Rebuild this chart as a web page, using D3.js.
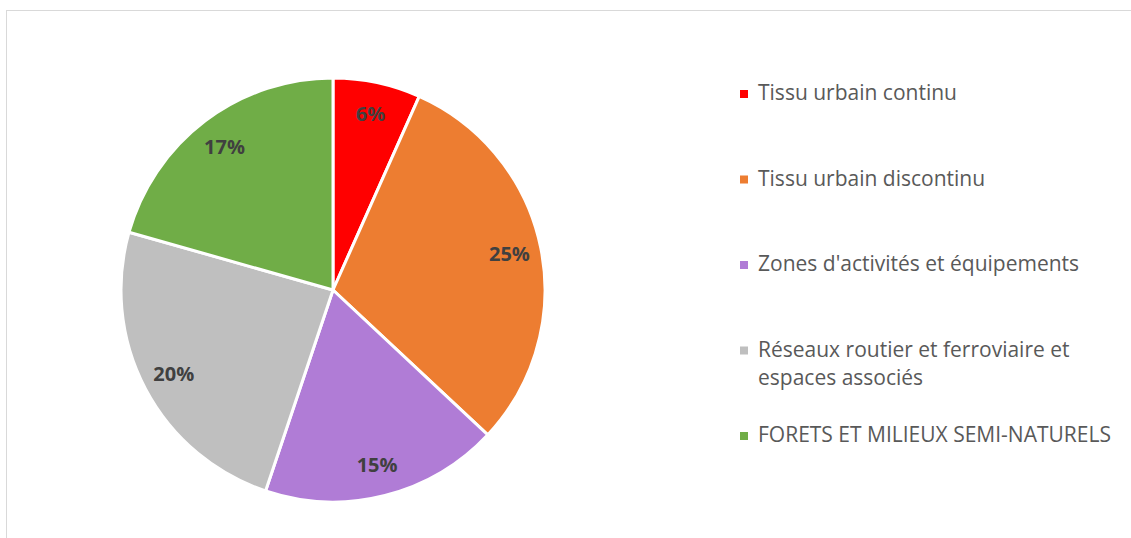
<!DOCTYPE html>
<html lang="fr">
<head>
    <meta charset="UTF-8">
    <title>Occupation du sol</title>
    <script src="https://d3js.org/d3.v7.min.js"></script>
    <style>
        body {
            margin: 0;
            background: #fff;
            font-family: "Open Sans", sans-serif;
        }
        svg { display: block; }
        .label {
            font-weight: bold;
            font-size: 20px;
            fill: #404040;
        }
        .legend text {
            font-size: 21px;
            fill: #595959;
        }
    </style>
</head>
<body>
<script>
    // Data (slice sizes from the angles, labels as printed)
    const categories = [
        "Tissu urbain continu",
        "Tissu urbain discontinu",
        "Zones d'activités et équipements",
        "Réseaux routier et ferroviaire et espaces associés",
        "FORETS ET MILIEUX SEMI-NATURELS"
    ];
    const values = [5.5, 25, 15, 20, 17];
    const labels = ["6%", "25%", "15%", "20%", "17%"];
    const colors = ["#ff0000", "#ed7d31", "#b07cd6", "#bfbfbf", "#70ad47"];

    const w = 1131;
    const h = 538;
    const cx = 333, cy = 290, radius = 212;

    const data = categories.map((c, i) => ({ name: c, value: values[i], label: labels[i], color: colors[i] }));

    const svg = d3.select("body")
        .append("svg")
        .attr("width", w)
        .attr("height", h);

    // chart area border (runs off the right and bottom edges)
    svg.append("rect")
        .attr("x", 6.5)
        .attr("y", 10.5)
        .attr("width", w + 20)
        .attr("height", h + 20)
        .attr("fill", "none")
        .attr("stroke", "#d9d9d9")
        .attr("stroke-width", 1);

    const pie = d3.pie().sort(null).value(d => d.value);
    const arc = d3.arc().innerRadius(0).outerRadius(radius);
    const labelArc = d3.arc().innerRadius(180).outerRadius(180);

    const g = svg.append("g").attr("transform", `translate(${cx},${cy})`);
    const arcs = pie(data);

    g.selectAll("path")
        .data(arcs)
        .enter()
        .append("path")
        .attr("d", arc)
        .attr("fill", d => d.data.color)
        .attr("stroke", "#fff")
        .attr("stroke-width", 3)
        .attr("stroke-linejoin", "round");

    g.selectAll("text.label")
        .data(arcs)
        .enter()
        .append("text")
        .attr("class", "label")
        .attr("transform", d => `translate(${labelArc.centroid(d)})`)
        .attr("text-anchor", "middle")
        .attr("dy", "0.36em")
        .text(d => d.data.label);

    // Legend
    const ly = d3.scalePoint().domain(categories).range([100, 442]);
    const legend = svg.append("g").attr("class", "legend");
    const items = legend.selectAll("g")
        .data(data)
        .enter()
        .append("g")
        .attr("transform", d => `translate(740,${ly(d.name)})`);

    items.append("rect")
        .attr("x", 0)
        .attr("y", -10)
        .attr("width", 8)
        .attr("height", 8)
        .attr("fill", d => d.color);

    const maxWidth = 370;
    items.append("text")
        .attr("x", 18)
        .attr("y", 0)
        .each(function (d) {
            const text = d3.select(this);
            const words = d.name.split(" ");
            let line = [];
            let lineNo = 0;
            let tspan = text.append("tspan").attr("x", 18).attr("y", 0);
            words.forEach(word => {
                line.push(word);
                tspan.text(line.join(" "));
                if (tspan.node().getComputedTextLength() > maxWidth && line.length > 1) {
                    line.pop();
                    tspan.text(line.join(" "));
                    line = [word];
                    lineNo++;
                    tspan = text.append("tspan").attr("x", 18).attr("y", lineNo * 28).text(word);
                }
            });
        });
</script>
</body>
</html>
